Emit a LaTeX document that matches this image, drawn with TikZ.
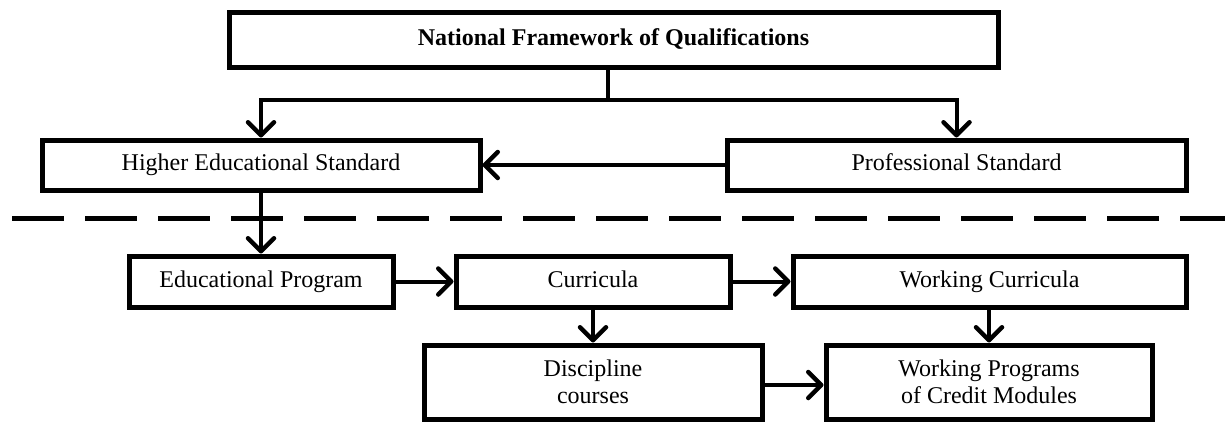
\documentclass[tikz,border=0pt]{standalone}
\usepackage{fontspec}
\setmainfont{Liberation Serif}
\usetikzlibrary{arrows.meta}

\begin{document}
\begin{tikzpicture}[
    x=1pt, y=-1pt,
    font=\fontsize{24}{27}\selectfont,
    box/.style={rectangle, draw, line width=5pt, align=center, inner sep=0pt},
    onebox/.style={box, text height=16pt, text depth=5pt},
    arr/.style={line width=4pt, -{Straight Barb[length=13pt, width=26pt, line width=4.5pt, round]}}
]
    \useasboundingbox (0,0) rectangle (1225,423);

    \node[onebox, minimum width=769, minimum height=55] (nfq) at (613.5,39.5) {\textbf{National Framework of Qualifications}};

    \node[onebox, minimum width=438, minimum height=50] (hes) at (261,165) {Higher Educational Standard};
    \node[onebox, minimum width=459, minimum height=50] (ps) at (956.5,165) {Professional Standard};

    \node[onebox, minimum width=264, minimum height=51] (ep) at (261,281.5) {Educational Program};
    \node[onebox, minimum width=274, minimum height=51] (cur) at (593,281.5) {Curricula};
    \node[onebox, minimum width=393, minimum height=51] (wc) at (989.5,281.5) {Working Curricula};

    \node[box, minimum width=338, minimum height=74] (disc) at (593,382) {Discipline\\courses};
    \node[box, minimum width=326, minimum height=74] (wpcm) at (989,382) {Working Programs\\of Credit Modules};

    \coordinate (fork) at (608,100);
    \draw[line width=4pt] (fork |- nfq.south) -- (fork);
    \draw[arr] (fork) -| (hes.north);
    \draw[arr] (fork) -| (ps.north);
    \draw[arr] (ps) -- (hes);

    \draw[line width=5pt, dash pattern=on 52pt off 21pt] (12,218) -- (1225,218);

    \draw[arr] (hes.south -| ep.north) -- (ep.north);
    \draw[arr] (ep) -- (cur);
    \draw[arr] (cur) -- (wc);
    \draw[arr] (cur.south) -- (disc.north);
    \draw[arr] (wc.south -| wpcm.north) -- (wpcm.north);
    \draw[arr] ([yshift=-3pt]disc.east) -- ([yshift=-3pt]wpcm.west);
\end{tikzpicture}
\end{document}
